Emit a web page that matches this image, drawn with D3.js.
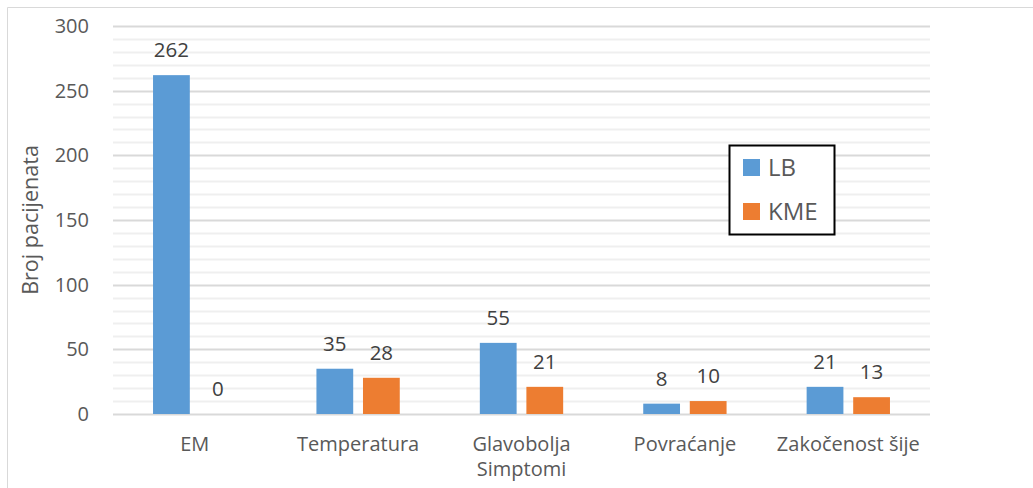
<!DOCTYPE html>
<html>
<head>
<meta charset="utf-8">
<script src="https://cdn.jsdelivr.net/npm/d3@7"></script>
<style>
  body { margin: 0; background: #fff; }
  svg text { font-family: "Open Sans", sans-serif; }
</style>
</head>
<body>
<svg id="chart"></svg>
<script>
let categories = ['EM', 'Temperatura', 'Glavobolja', 'Povraćanje', 'Zakočenost šije'];
let seriesNames = ['LB', 'KME'];
let lbValues = [262, 35, 55, 8, 21];
let kmeValues = [0, 28, 21, 10, 13];
let yTicks = [0, 50, 100, 150, 200, 250, 300];
let colors = ['#5b9bd5', '#ed7d31'];

let W = 1033, H = 488;
let margin = {top: 26, right: 103, bottom: 74, left: 113};
let width = W - margin.left - margin.right;
let height = H - margin.top - margin.bottom;

let root = d3.select('#chart').attr('width', W).attr('height', H);

// outer frame (top and left edge visible)
root.append('line').attr('x1', 7.5).attr('x2', W).attr('y1', 7.5).attr('y2', 7.5)
    .attr('stroke', '#d9d9d9').attr('stroke-width', 1);
root.append('line').attr('x1', 7.5).attr('x2', 7.5).attr('y1', 7.5).attr('y2', H)
    .attr('stroke', '#d9d9d9').attr('stroke-width', 1);

let svg = root.append('g')
    .attr('transform', 'translate(' + margin.left + ',' + margin.top + ')');

let yScale = d3.scaleLinear().domain([0, 300]).range([height, 0]);

let x0 = d3.scaleBand().domain(categories).range([0, width])
    .paddingInner(0.49).paddingOuter(0.245);
let x1 = d3.scaleBand().domain(seriesNames).range([0, x0.bandwidth()])
    .paddingInner(0.21);

// minor gridlines
svg.append('g').selectAll('line')
    .data(d3.range(10, 300, 10).filter(v => v % 50 !== 0))
    .enter().append('line')
    .attr('x1', 0).attr('x2', width)
    .attr('y1', d => Math.round(yScale(d)) + 0.5)
    .attr('y2', d => Math.round(yScale(d)) + 0.5)
    .attr('stroke', '#efefef').attr('stroke-width', 2);

// major gridlines
svg.append('g').selectAll('line')
    .data(yTicks)
    .enter().append('line')
    .attr('x1', 0).attr('x2', width)
    .attr('y1', d => Math.round(yScale(d)) + 0.5)
    .attr('y2', d => Math.round(yScale(d)) + 0.5)
    .attr('stroke', '#d9d9d9').attr('stroke-width', 2);

// y axis labels
let yAxis = d3.axisLeft(yScale).tickValues(yTicks).tickSize(0).tickPadding(24);
let yg = svg.append('g').call(yAxis);
yg.select('.domain').remove();
yg.selectAll('text').attr('font-size', 20).attr('fill', '#595959')
    .style('font-family', '"Open Sans", sans-serif');

// x axis labels
let xAxis = d3.axisBottom(x0).tickSize(0).tickPadding(23);
let xg = svg.append('g').attr('transform', 'translate(0,' + height + ')').call(xAxis);
xg.select('.domain').remove();
xg.selectAll('text').attr('font-size', 20).attr('fill', '#595959')
    .style('font-family', '"Open Sans", sans-serif');

let rows = categories.map((c, i) => ({cat: c, values: [lbValues[i], kmeValues[i]]}));

let groups = svg.selectAll('.grp').data(rows).enter().append('g')
    .attr('class', 'grp')
    .attr('transform', d => 'translate(' + x0(d.cat) + ',0)');

groups.selectAll('rect')
    .data(d => d.values.map((v, j) => ({name: seriesNames[j], value: v, j: j})))
    .enter().append('rect')
    .attr('x', d => x1(d.name))
    .attr('y', d => yScale(d.value))
    .attr('width', x1.bandwidth())
    .attr('height', d => height - yScale(d.value))
    .attr('fill', d => colors[d.j]);

groups.selectAll('text.val')
    .data(d => d.values.map((v, j) => ({name: seriesNames[j], value: v})))
    .enter().append('text')
    .attr('class', 'val')
    .attr('x', d => x1(d.name) + x1.bandwidth() / 2)
    .attr('y', d => yScale(d.value) - 18)
    .attr('text-anchor', 'middle')
    .attr('font-size', 20.5)
    .attr('fill', '#404040')
    .text(d => d.value);

// axis titles
svg.append('text')
    .attr('transform', 'translate(-75,' + (height / 2) + ') rotate(-90)')
    .attr('text-anchor', 'middle')
    .attr('font-size', 21.5)
    .attr('fill', '#595959')
    .text('Broj pacijenata');

svg.append('text')
    .attr('x', x0('Glavobolja') + x0.bandwidth() / 2)
    .attr('y', height + 62)
    .attr('text-anchor', 'middle')
    .attr('font-size', 20)
    .attr('fill', '#595959')
    .text('Simptomi');

// legend
let legend = root.append('g').attr('transform', 'translate(729,145)');
legend.append('rect').attr('x', 0.5).attr('y', 0.5).attr('width', 105).attr('height', 89)
    .attr('fill', '#fff').attr('stroke', '#000').attr('stroke-width', 2);
seriesNames.forEach(function (name, i) {
    let row = legend.append('g').attr('transform', 'translate(14,' + (14 + i * 44) + ')');
    row.append('rect').attr('width', 17).attr('height', 17).attr('fill', colors[i]);
    row.append('text').attr('x', 25).attr('y', 17)
        .attr('font-size', 24).attr('fill', '#595959').text(name);
});
</script>
</body>
</html>
